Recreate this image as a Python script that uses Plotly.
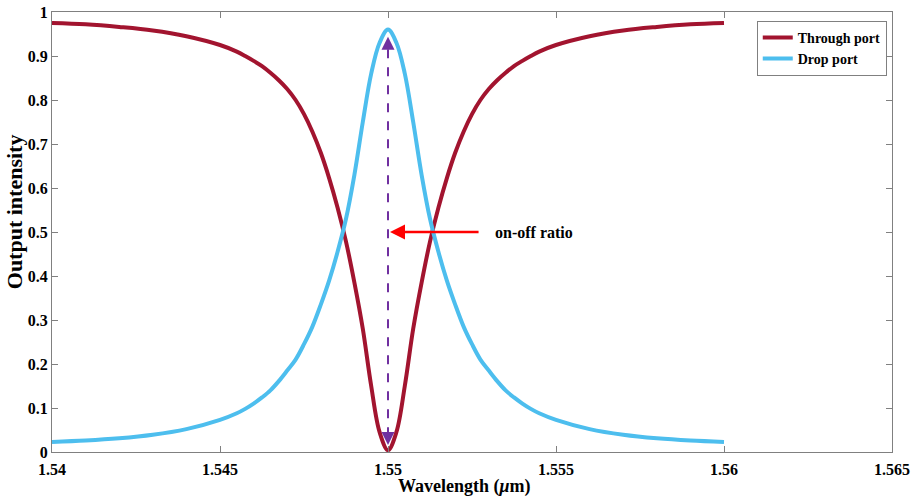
import plotly.graph_objects as go

# Wavelength samples (um)
wavelength = [1.5400, 1.5410, 1.5420, 1.5430, 1.5440, 1.5450, 1.5455, 1.54575, 1.5460,
              1.54625, 1.5465, 1.54675,
              1.5470, 1.54725, 1.5475, 1.54775, 1.5480, 1.54825, 1.5485, 1.54875,
              1.5490, 1.54925, 1.5495, 1.54975,
              1.5500,
              1.55025, 1.5505, 1.55075, 1.5510, 1.55125, 1.5515, 1.55175, 1.5520,
              1.55225, 1.5525, 1.55275, 1.5530,
              1.55325, 1.5535, 1.55375, 1.5540, 1.55425, 1.5545,
              1.5550, 1.5560, 1.5570, 1.5580, 1.5590, 1.5600]

through_port = [0.975, 0.972, 0.966, 0.958, 0.945, 0.925, 0.910, 0.900, 0.889,
                0.877, 0.862, 0.845,
                0.825, 0.800, 0.768, 0.728, 0.680, 0.622, 0.555, 0.478,
                0.385, 0.280, 0.150, 0.045,
                0.004,
                0.045, 0.150, 0.280, 0.385, 0.478, 0.555, 0.622, 0.680,
                0.728, 0.768, 0.800, 0.825,
                0.845, 0.862, 0.877, 0.889, 0.900, 0.910,
                0.925, 0.945, 0.958, 0.966, 0.972, 0.975]

drop_port = [0.023, 0.026, 0.031, 0.039, 0.052, 0.073, 0.088, 0.098, 0.110,
             0.124, 0.140, 0.161,
             0.185, 0.210, 0.245, 0.285, 0.335, 0.390, 0.455, 0.530,
             0.630, 0.750, 0.860, 0.930,
             0.960,
             0.930, 0.860, 0.750, 0.630, 0.530, 0.455, 0.390, 0.335,
             0.285, 0.245, 0.210, 0.185,
             0.161, 0.140, 0.124, 0.110, 0.098, 0.088,
             0.073, 0.052, 0.039, 0.031, 0.026, 0.023]

x_ticks = [1.54, 1.545, 1.55, 1.555, 1.56, 1.565]
x_tick_labels = ["1.54", "1.545", "1.55", "1.555", "1.56", "1.565"]
y_ticks = [0, 0.1, 0.2, 0.3, 0.4, 0.5, 0.6, 0.7, 0.8, 0.9, 1]
y_tick_labels = ["0", "0.1", "0.2", "0.3", "0.4", "0.5", "0.6", "0.7", "0.8", "0.9", "1"]

# annotation positions (data units)
ratio_x = 1.55
ratio_top = 0.944
ratio_bottom = 0.016
arrow_tip_x = 1.55006
arrow_tail_x = 1.55274
arrow_y = 0.5
label_x = 1.55312

FONT = "Liberation Serif"
GRAY = "#808080"

fig = go.Figure()
fig.add_trace(go.Scatter(x=wavelength, y=through_port, mode="lines", name="<b>Through port</b>",
                         line=dict(color="#A2142F", width=4, shape="spline")))
fig.add_trace(go.Scatter(x=wavelength, y=drop_port, mode="lines", name="<b>Drop port</b>",
                         line=dict(color="#4DBEEE", width=4, shape="spline")))

# dashed purple double arrow
fig.add_shape(type="line", x0=ratio_x, x1=ratio_x, y0=ratio_bottom + 0.02, y1=ratio_top - 0.02,
              xref="x", yref="y", line=dict(color="#7030A0", width=2, dash="dash"))
for tip, tail in [(ratio_top, ratio_top - 0.03), (ratio_bottom, ratio_bottom + 0.03)]:
    fig.add_annotation(x=ratio_x, y=tip, ax=ratio_x, ay=tail, xref="x", yref="y",
                       axref="x", ayref="y", text="", showarrow=True, arrowhead=2,
                       arrowsize=1.3, arrowwidth=2, arrowcolor="#7030A0")

# red arrow
fig.add_annotation(x=arrow_tip_x, y=arrow_y, ax=arrow_tail_x, ay=arrow_y, xref="x", yref="y",
                   axref="x", ayref="y", text="", showarrow=True, arrowhead=2,
                   arrowsize=1.2, arrowwidth=2.5, arrowcolor="#FF0000")
fig.add_annotation(x=label_x, y=arrow_y, xref="x", yref="y", text="<b>on-off ratio</b>",
                   showarrow=False, xanchor="left", yanchor="middle",
                   font=dict(family=FONT, size=16, color="black"))

# axis titles
fig.add_annotation(x=0.4905, y=-0.1045, xref="paper", yref="paper",
                   text="<b>Wavelength (<i>μ</i>m)</b>", showarrow=False, borderpad=0,
                   xanchor="center", yanchor="bottom", font=dict(family=FONT, size=18, color="black"))
fig.add_annotation(x=-0.0452, y=0.545, xref="paper", yref="paper",
                   text="<b>Output intensity</b>", showarrow=False, textangle=-90,
                   xanchor="center", yanchor="middle", font=dict(family=FONT, size=22, color="black"))

fig.update_layout(
    width=919, height=498,
    margin=dict(l=52, r=27, t=12, b=46),
    plot_bgcolor="white", paper_bgcolor="white",
    font=dict(family=FONT, size=16, color="black"),
    showlegend=True,
    legend=dict(x=0.839, y=0.98, xanchor="left", yanchor="top",
                bordercolor=GRAY, borderwidth=1, bgcolor="white",
                font=dict(family=FONT, size=14, color="black"),
                itemwidth=30, tracegroupgap=0),
    xaxis=dict(range=[1.54, 1.565], tickvals=x_ticks, ticktext=["<b>%s</b>" % t for t in x_tick_labels],
               ticks="inside", ticklen=6, tickcolor=GRAY, showline=True, linecolor=GRAY,
               linewidth=1, mirror="ticks", showgrid=False, zeroline=False, automargin=False,
               ticklabelstandoff=3),
    yaxis=dict(range=[0, 1], tickvals=y_ticks, ticktext=["<b>%s</b>" % t for t in y_tick_labels],
               ticks="inside", ticklen=6, tickcolor=GRAY, showline=True, linecolor=GRAY,
               linewidth=1, mirror="ticks", showgrid=False, zeroline=False, automargin=False),
)

fig.write_html("out.html")
